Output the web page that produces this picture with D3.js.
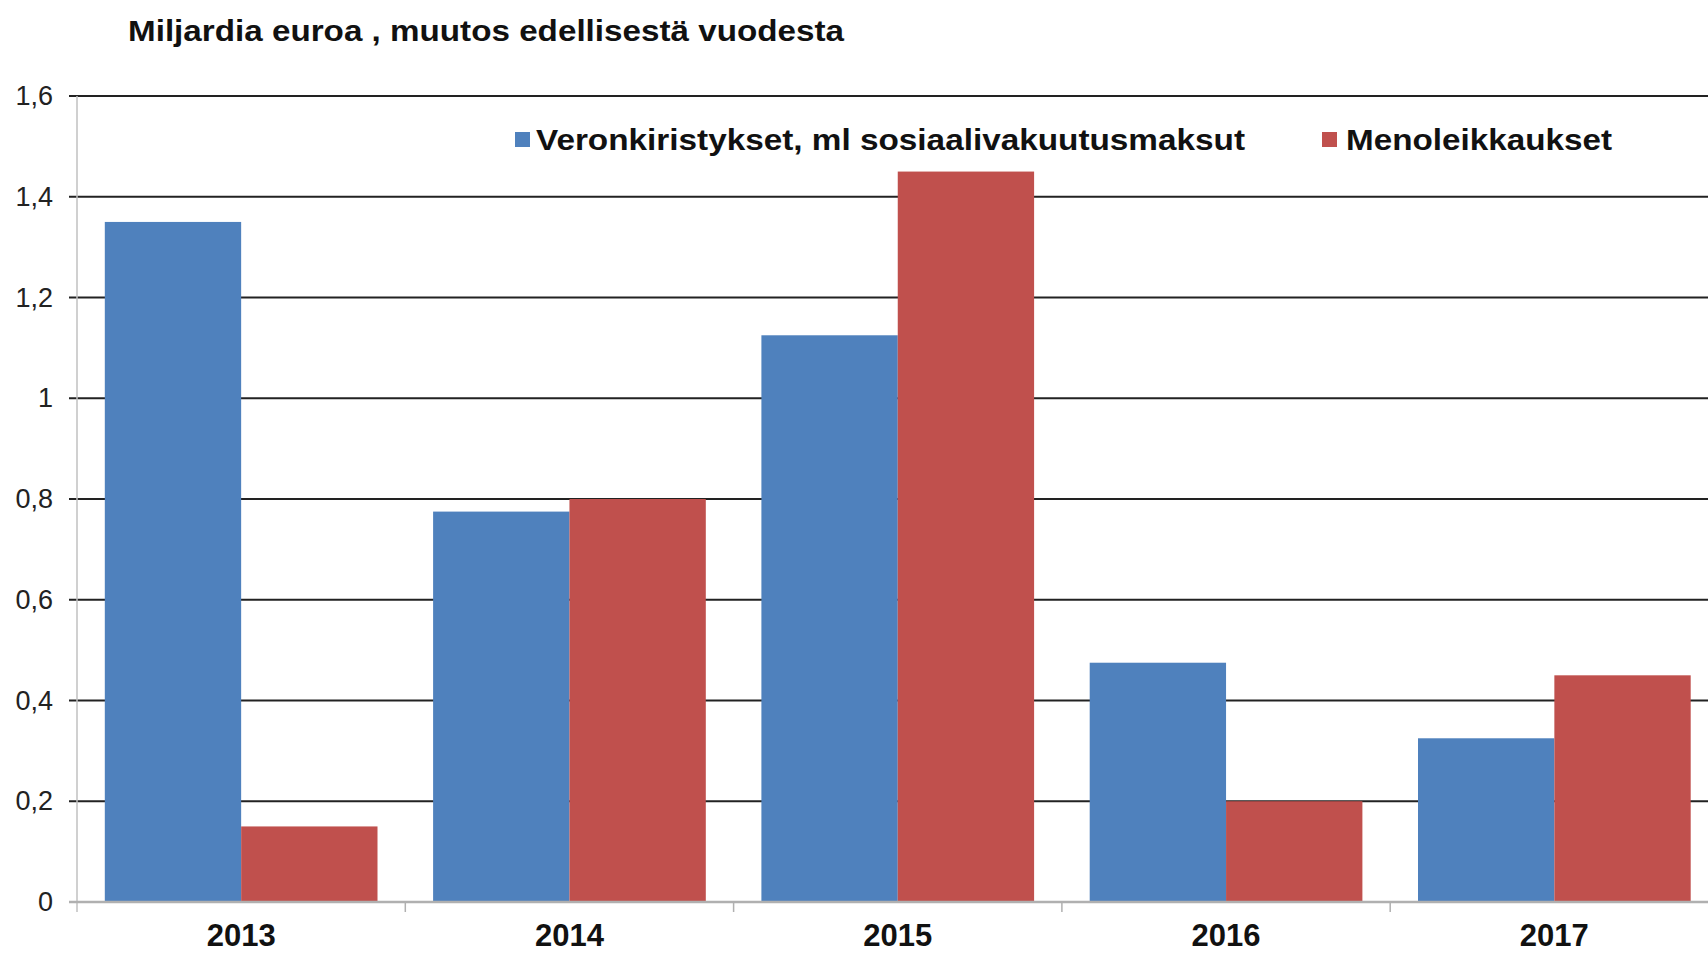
<!DOCTYPE html>
<html>
<head>
<meta charset="utf-8">
<script src="https://cdn.jsdelivr.net/npm/d3@7"></script>
<style>
    body { margin: 0; background: #fff; }
    text { font-family: "Liberation Sans", Arial, sans-serif; }
</style>
</head>
<body>
<svg id="chart"></svg>
<script>
const years = ['2013', '2014', '2015', '2016', '2017'];
const seriesNames = ['Veronkiristykset, ml sosiaalivakuutusmaksut', 'Menoleikkaukset'];
const taxValues = [1.35, 0.775, 1.125, 0.475, 0.325];
const cutValues = [0.15, 0.8, 1.45, 0.2, 0.45];
const yTicks = [0, 0.2, 0.4, 0.6, 0.8, 1, 1.2, 1.4, 1.6];
const colors = ['#4f81bd', '#c0504d'];

class FiscalChart {
    constructor(svgID) {
        this.svg = d3.select('#' + svgID).attr('width', 1708).attr('height', 955);
        this.left = 77;
        this.step = 328.3;
        this.x0 = d3.scaleBand().domain(years).range([this.left, this.left + this.step * years.length]);
        this.x1 = d3.scaleBand().domain(seriesNames).range([27.8, this.step - 27.8]);
        this.y = d3.scaleLinear().domain([0, 1.6]).range([902, 96]);

        this.drawTitle();
        this.drawGrid();
        this.drawBars();
        this.drawAxes();
        this.drawLegend();
    }

    drawTitle() {
        this.svg.append('text')
            .attr('x', 128)
            .attr('y', 41)
            .attr('font-size', 30)
            .attr('font-weight', 'bold')
            .attr('fill', '#111')
            .attr('textLength', 716)
            .attr('lengthAdjust', 'spacingAndGlyphs')
            .text('Miljardia euroa , muutos edellisestä vuodesta');
    }

    drawGrid() {
        this.svg.append('g')
            .selectAll('line')
            .data(yTicks.filter(d => d > 0))
            .join('line')
            .attr('x1', this.left - 8)
            .attr('x2', 1708)
            .attr('y1', d => this.y(d))
            .attr('y2', d => this.y(d))
            .attr('stroke', '#222')
            .attr('stroke-width', 2);
    }

    drawBars() {
        let rows = years.map((yr, i) => ({ year: yr, vals: [taxValues[i], cutValues[i]] }));
        this.svg.append('g')
            .selectAll('g')
            .data(rows)
            .join('g')
            .attr('transform', d => 'translate(' + this.x0(d.year) + ',0)')
            .selectAll('rect')
            .data(d => d.vals.map((v, j) => ({ name: seriesNames[j], value: v, idx: j })))
            .join('rect')
            .attr('x', d => this.x1(d.name))
            .attr('width', this.x1.bandwidth())
            .attr('y', d => this.y(d.value))
            .attr('height', d => this.y(0) - this.y(d.value))
            .attr('fill', d => colors[d.idx]);
    }

    drawAxes() {
        let yAxis = d3.axisLeft(this.y)
            .tickValues(yTicks)
            .tickSize(0)
            .tickPadding(24)
            .tickFormat(d => String(d).replace('.', ','));
        let yg = this.svg.append('g')
            .attr('transform', 'translate(' + this.left + ',0)')
            .call(yAxis);
        yg.select('.domain').remove();
        yg.selectAll('text')
            .attr('font-size', 27)
            .attr('fill', '#222')
            .style('font-family', '"Liberation Sans", Arial, sans-serif');

        // vertical axis line
        this.svg.append('line')
            .attr('x1', this.left).attr('x2', this.left)
            .attr('y1', this.y(1.6)).attr('y2', this.y(0) + 10)
            .attr('stroke', '#c0c0c0')
            .attr('stroke-width', 1.5);

        // zero line
        this.svg.append('line')
            .attr('x1', this.left - 8).attr('x2', 1708)
            .attr('y1', this.y(0)).attr('y2', this.y(0))
            .attr('stroke', '#b0b0b0')
            .attr('stroke-width', 2.5);

        // category separators
        this.svg.append('g')
            .selectAll('line')
            .data(years.slice(1))
            .join('line')
            .attr('x1', d => this.x0(d)).attr('x2', d => this.x0(d))
            .attr('y1', this.y(0)).attr('y2', this.y(0) + 10)
            .attr('stroke', '#b0b0b0')
            .attr('stroke-width', 1.5);

        this.svg.append('g')
            .selectAll('text')
            .data(years)
            .join('text')
            .attr('x', d => this.x0(d) + this.step / 2)
            .attr('y', 946)
            .attr('text-anchor', 'middle')
            .attr('font-size', 31)
            .attr('font-weight', 'bold')
            .attr('fill', '#111')
            .text(d => d);
    }

    drawLegend() {
        let items = [
            { name: seriesNames[0], sx: 515, tx: 536, w: 709 },
            { name: seriesNames[1], sx: 1322, tx: 1346, w: 266 }
        ];
        let legend = this.svg.append('g').attr('class', 'legend');
        legend.selectAll('rect')
            .data(items)
            .join('rect')
            .attr('x', d => d.sx)
            .attr('y', 132)
            .attr('width', 15)
            .attr('height', 15)
            .attr('fill', (d, i) => colors[i]);
        legend.selectAll('text')
            .data(items)
            .join('text')
            .attr('x', d => d.tx)
            .attr('y', 150)
            .attr('font-size', 30)
            .attr('font-weight', 'bold')
            .attr('fill', '#111')
            .attr('textLength', d => d.w)
            .attr('lengthAdjust', 'spacingAndGlyphs')
            .text(d => d.name);
    }
}

new FiscalChart('chart');
</script>
</body>
</html>
